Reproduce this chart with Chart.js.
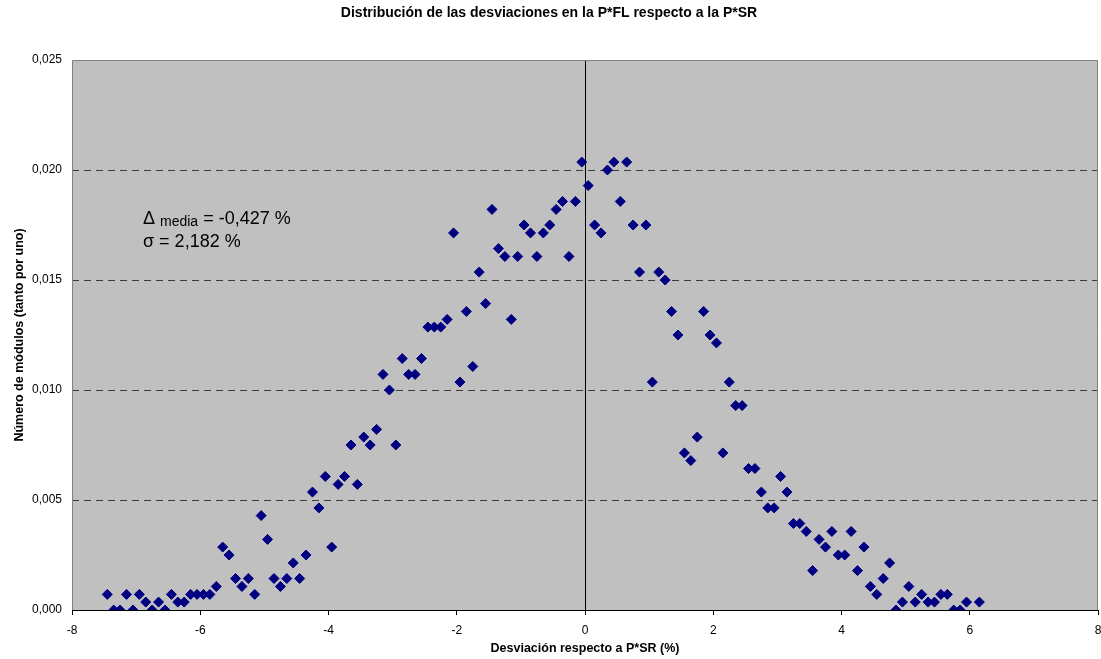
<!DOCTYPE html>
<html>
<head>
<meta charset="utf-8">
<script src="https://cdn.jsdelivr.net/npm/chart.js@4"></script>
<style>
  html, body { margin: 0; padding: 0; background: #fff; }
  #chart { display: block; }
</style>
</head>
<body>
<canvas id="chart" width="1101" height="659"></canvas>
<script>
  // desviación (%) y número de módulos (tanto por uno)
  let desviacion = [
    -7.45, -7.35, -7.25, -7.15, -7.05, -6.95, -6.85, -6.75, -6.65, -6.55,
    -6.45, -6.35, -6.25, -6.15, -6.05, -5.95, -5.85, -5.75, -5.65, -5.55,
    -5.45, -5.35, -5.25, -5.15, -5.05, -4.95, -4.85, -4.75, -4.65, -4.55,
    -4.45, -4.35, -4.25, -4.15, -4.05, -3.95, -3.85, -3.75, -3.65, -3.55,
    -3.45, -3.35, -3.25, -3.15, -3.05, -2.95, -2.85, -2.75, -2.65, -2.55,
    -2.45, -2.35, -2.25, -2.15, -2.05, -1.95, -1.85, -1.75, -1.65, -1.55,
    -1.45, -1.35, -1.25, -1.15, -1.05, -0.95, -0.85, -0.75, -0.65, -0.55,
    -0.45, -0.35, -0.25, -0.15, -0.05, 0.05, 0.15, 0.25, 0.35, 0.45,
    0.55, 0.65, 0.75, 0.85, 0.95, 1.05, 1.15, 1.25, 1.35, 1.45,
    1.55, 1.65, 1.75, 1.85, 1.95, 2.05, 2.15, 2.25, 2.35, 2.45,
    2.55, 2.65, 2.75, 2.85, 2.95, 3.05, 3.15, 3.25, 3.35, 3.45,
    3.55, 3.65, 3.75, 3.85, 3.95, 4.05, 4.15, 4.25, 4.35, 4.45,
    4.55, 4.65, 4.75, 4.85, 4.95, 5.05, 5.15, 5.25, 5.35, 5.45,
    5.55, 5.65, 5.75, 5.85, 5.95, 6.15
  ];
  let modulos = [
    0.00071, 0, 0, 0.00071, 0, 0.00071, 0.00036, 0, 0.00036, 0,
    0.00071, 0.00036, 0.00036, 0.00071, 0.00071, 0.00071, 0.00071, 0.00107, 0.00286, 0.0025,
    0.00143, 0.00107, 0.00143, 0.00071, 0.00429, 0.00321, 0.00143, 0.00107, 0.00143, 0.00214,
    0.00143, 0.0025, 0.00536, 0.00464, 0.00607, 0.00286, 0.00571, 0.00607, 0.0075, 0.00571,
    0.00786, 0.0075, 0.00821, 0.01071, 0.01, 0.0075, 0.01143, 0.01071, 0.01071, 0.01143,
    0.01286, 0.01286, 0.01286, 0.01321, 0.01714, 0.01036, 0.01357, 0.01107, 0.01536, 0.01393,
    0.01821, 0.01643, 0.01607, 0.01321, 0.01607, 0.0175, 0.01714, 0.01607, 0.01714, 0.0175,
    0.01821, 0.01857, 0.01607, 0.01857, 0.02036, 0.01929, 0.0175, 0.01714, 0.02, 0.02036,
    0.01857, 0.02036, 0.0175, 0.01536, 0.0175, 0.01036, 0.01536, 0.015, 0.01357, 0.0125,
    0.00714, 0.00679, 0.00786, 0.01357, 0.0125, 0.01214, 0.00714, 0.01036, 0.00929, 0.00929,
    0.00643, 0.00643, 0.00536, 0.00464, 0.00464, 0.00607, 0.00536, 0.00393, 0.00393, 0.00357,
    0.00179, 0.00321, 0.00286, 0.00357, 0.0025, 0.0025, 0.00357, 0.00179, 0.00286, 0.00107,
    0.00071, 0.00143, 0.00214, 0, 0.00036, 0.00107, 0.00036, 0.00071, 0.00036, 0.00036,
    0.00071, 0.00071, 0, 0, 0.00036, 0.00036
  ];
  let xTicks = [-8, -6, -4, -2, 0, 2, 4, 6, 8];
  let yTicks = [0, 0.005, 0.01, 0.015, 0.02, 0.025];

  let puntos = desviacion.map((x, i) => ({ x: x, y: modulos[i] }));
  const FONT = "'Liberation Sans', Arial, sans-serif";

  // fondo gris del área de trazado
  const plotBackground = {
    id: "plotBackground",
    beforeDraw(chart) {
      const { ctx, chartArea: a } = chart;
      ctx.save();
      ctx.fillStyle = "#c0c0c0";
      ctx.fillRect(a.left, a.top, a.right - a.left, a.bottom - a.top);
      ctx.restore();
    },
    afterDraw(chart) {
      const { ctx, chartArea: a } = chart;
      ctx.save();
      ctx.strokeStyle = "#808080";
      ctx.lineWidth = 1;
      ctx.beginPath();
      ctx.moveTo(a.left + 0.5, a.bottom);
      ctx.lineTo(a.left + 0.5, a.top + 0.5);
      ctx.lineTo(a.right - 0.5, a.top + 0.5);
      ctx.lineTo(a.right - 0.5, a.bottom);
      ctx.stroke();
      ctx.strokeStyle = "#000";
      ctx.beginPath();
      ctx.moveTo(a.left, a.bottom + 0.5);
      ctx.lineTo(a.right, a.bottom + 0.5);
      ctx.stroke();
      ctx.restore();
    },
  };

  // texto con la media y la desviación típica
  const statsLabel = {
    id: "statsLabel",
    afterDatasetsDraw(chart) {
      const { ctx, chartArea: a } = chart;
      let x = a.left + 71;
      let y1 = a.top + 164;
      let y2 = a.top + 187;
      ctx.save();
      ctx.fillStyle = "#000";
      ctx.textBaseline = "alphabetic";
      ctx.font = "18px " + FONT;
      ctx.fillText("\u0394", x, y1);
      x += ctx.measureText("\u0394 ").width;
      ctx.font = "14px " + FONT;
      ctx.fillText("media", x, y1 + 2);
      x += ctx.measureText("media").width;
      ctx.font = "18px " + FONT;
      ctx.fillText(" = -0,427 %", x, y1);
      ctx.fillText("\u03c3 = 2,182 %", a.left + 71, y2);
      ctx.restore();
    },
  };

  let ctx = document.getElementById("chart").getContext("2d");
  let chart = new Chart(ctx, {
    type: "scatter",
    data: {
      datasets: [
        {
          label: "Desviación",
          data: puntos,
          pointStyle: "rectRot",
          pointRadius: 5,
          pointHoverRadius: 5,
          backgroundColor: "#000080",
          borderColor: "#000080",
          borderWidth: 1,
        },
      ],
    },
    options: {
      responsive: false,
      animation: false,
      devicePixelRatio: 1,
      layout: { autoPadding: false, padding: { left: 0, right: 3, top: 0, bottom: 0 } },
      plugins: {
        legend: { display: false },
        tooltip: { enabled: false },
        title: {
          display: true,
          text: "Distribución de las desviaciones en la P*FL respecto a la P*SR",
          color: "#000",
          font: { family: FONT, size: 14, weight: "bold" },
          padding: { top: 5, bottom: 38.2 },
        },
      },
      scales: {
        x: {
          type: "linear",
          min: -8,
          max: 8,
          afterBuildTicks: (scale) => {
            scale.ticks = xTicks.map((v) => ({ value: v }));
          },
          afterFit: (scale) => {
            scale.height = 49;
            scale.paddingLeft = 0;
            scale.paddingRight = 0;
          },
          ticks: {
            color: "#000",
            padding: 8,
            font: { family: FONT, size: 12 },
            callback: (v) => String(v),
          },
          grid: {
            color: (c) => (c.tick && c.tick.value === 0 ? "#000" : "rgba(0,0,0,0)"),
            tickColor: "#000",
            tickLength: 5,
            lineWidth: 1,
          },
          border: { display: false },
          title: {
            display: true,
            text: "Desviación respecto a P*SR (%)",
            color: "#000",
            font: { family: FONT, size: 12.5, weight: "bold" },
            padding: { top: 0, bottom: 3 },
          },
        },
        y: {
          type: "linear",
          min: 0,
          max: 0.025,
          afterBuildTicks: (scale) => {
            scale.ticks = yTicks.map((v) => ({ value: v }));
          },
          afterFit: (scale) => {
            scale.width = 72;
          },
          ticks: {
            color: "#000",
            padding: 10,
            font: { family: FONT, size: 12 },
            callback: (v) => v.toFixed(3).replace(".", ","),
          },
          grid: {
            drawTicks: false,
            color: (c) =>
              c.tick && (c.tick.value === 0 || c.tick.value === 0.025) ? "rgba(0,0,0,0)" : "#3c3c3c",
            lineWidth: 1,
          },
          border: { display: false, dash: [7, 5] },
          title: {
            display: true,
            text: "Número de módulos (tanto por uno)",
            color: "#000",
            font: { family: FONT, size: 12.5, weight: "bold" },
            padding: { top: 12, bottom: 0 },
          },
        },
      },
    },
    plugins: [plotBackground, statsLabel],
  });
</script>
</body>
</html>
